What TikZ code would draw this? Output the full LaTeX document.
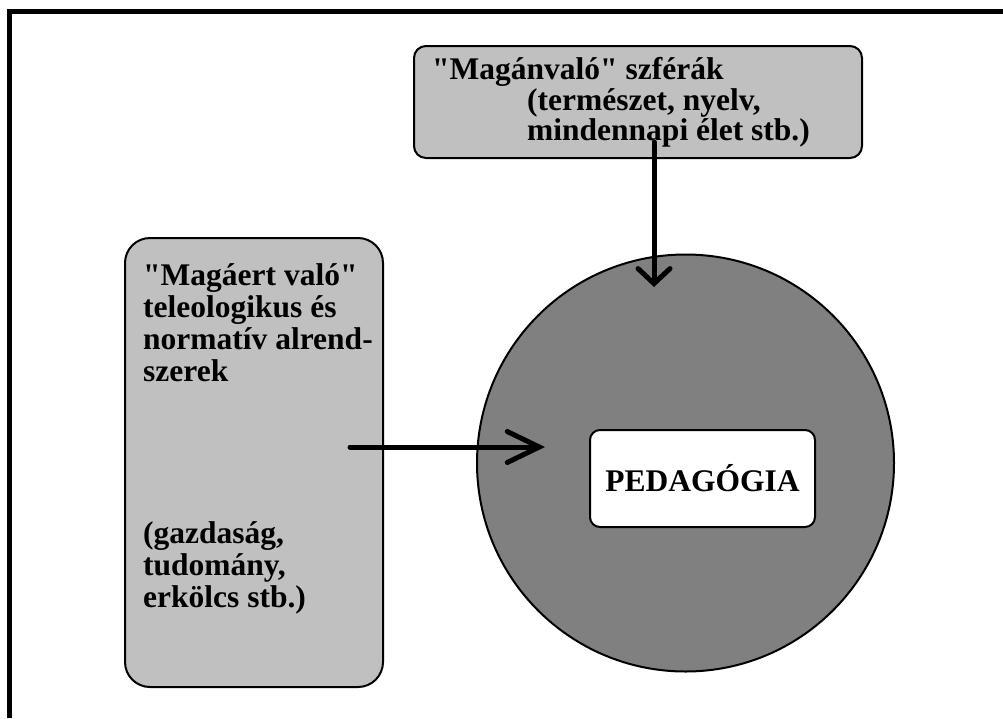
\documentclass[tikz,border=0pt]{standalone}
\usepackage{fontspec}
\setmainfont{Liberation Serif}
\usepackage{tikz}
\usetikzlibrary{arrows.meta}

\definecolor{lightgray}{RGB}{192,192,192}
\definecolor{midgray}{RGB}{128,128,128}

\begin{document}
\begin{tikzpicture}[x=1pt,y=-1pt,
  every node/.style={inner sep=0pt},
  txt/.style={anchor=base west,font=\fontsize{31.5}{32}\selectfont\bfseries},
  graybox/.style={draw,line width=2pt,fill=lightgray},
  arr/.style={line width=5pt,line cap=round}]
\useasboundingbox (0,0) rectangle (1003,718);

% frame
\draw[line width=5pt] (9.5,718) -- (9.5,11.5) -- (1003,11.5);

\node[graybox,rounded corners=12pt,minimum width=448pt,minimum height=112pt] (magan) at (638,102) {};
\node[graybox,rounded corners=25pt,minimum width=258pt,minimum height=449pt] (magaert) at (254,462.5) {};
\node[circle,draw,line width=2pt,fill=midgray,minimum size=417pt] (kor) at (685.5,463) {};
\node[draw,line width=2pt,fill=white,rounded corners=10pt,minimum width=225pt,minimum height=97pt,
  font=\fontsize{31.5}{32}\selectfont\bfseries] (ped) at (702.5,478.5) {PEDAGÓGIA};

\node[txt] (m1) at (432,79) {\textquotedbl Magánvaló\textquotedbl{} szférák};
\node[txt] (m2) at (527,110) {(természet, nyelv,};
\node[txt] (m3) at (527,140) {mindennapi élet stb.)};

\node[txt] (a1) at (143,285) {\textquotedbl Magáert való\textquotedbl};
\node[txt] (a2) at (143,317) {teleologikus és};
\node[txt] (a3) at (143,349) {normatív alrend-};
\node[txt] (a4) at (143,381) {szerek};
\node[txt] (a5) at (143,543) {(gazdaság,};
\node[txt] (a6) at (143,575) {tudomány,};
\node[txt] (a7) at (143,607) {erkölcs stb.)};

\coordinate (vfrom) at (654,142);
\coordinate (vto) at (654,287);
\coordinate (hfrom) at (350,447);
\coordinate (hto) at (545,447);

\draw[arr,-{Straight Barb[length=15pt,width=32pt,line cap=round]}] (vfrom) -- (vto);
\draw[arr,-{Straight Barb[length=32pt,width=31pt,line cap=round]}] (hfrom) -- (hto);

\end{tikzpicture}
\end{document}
